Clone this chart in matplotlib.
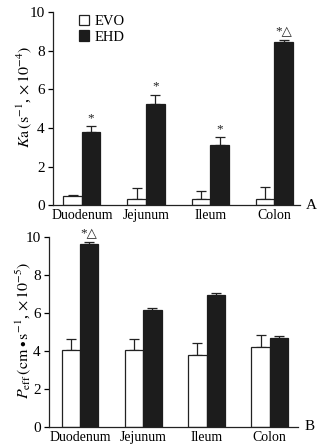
import matplotlib
matplotlib.use("Agg")
import matplotlib.pyplot as plt
import numpy as np

segments = ["Duodenum", "Jejunum", "Ileum", "Colon"]

# panel A: Ka (s^-1, x10^-4)
ka_evo = [0.45, 0.30, 0.30, 0.30]
ka_evo_err = [0.07, 0.60, 0.45, 0.62]
ka_ehd = [3.80, 5.22, 3.14, 8.43]
ka_ehd_err = [0.28, 0.50, 0.40, 0.10]
ka_marks = ["*", "*", "*", "*\u25b3"]

# panel B: Peff (cm s^-1, x10^-5)
peff_evo = [4.02, 4.02, 3.76, 4.22]
peff_evo_err = [0.60, 0.58, 0.63, 0.60]
peff_ehd = [9.60, 6.14, 6.92, 4.68]
peff_ehd_err = [0.10, 0.12, 0.10, 0.10]
peff_marks = ["*\u25b3", "", "", ""]

yticks = [0, 2, 4, 6, 8, 10]

plt.rcParams["font.family"] = ["Liberation Serif", "DejaVu Sans"]
plt.rcParams["mathtext.fontset"] = "stix"

fig = plt.figure(figsize=(3.21, 4.45), dpi=100)
ax1 = fig.add_axes([0.165, 0.539, 0.770, 0.434])
ax2 = fig.add_axes([0.153, 0.041, 0.776, 0.427])

width = 0.29
dark = "#1c1c1c"


def draw_panel(ax, evo, evo_err, ehd, ehd_err, marks, letter, xlim):
    x = np.arange(len(segments))
    zeros = np.zeros(len(segments))
    ax.bar(x - width / 2, evo, width, color="white", edgecolor="#222222",
           linewidth=0.9, label="EVO", zorder=2)
    ax.bar(x + width / 2, ehd, width, color=dark, edgecolor=dark,
           linewidth=0.9, label="EHD", zorder=2)
    ax.errorbar(x - width / 2, evo, yerr=[zeros, evo_err], fmt="none",
                ecolor="#222222", elinewidth=0.9, capsize=3.6, capthick=0.9,
                zorder=1)
    ax.errorbar(x + width / 2, ehd, yerr=[zeros, ehd_err], fmt="none",
                ecolor="#222222", elinewidth=0.9, capsize=3.6, capthick=0.9,
                zorder=1)
    for xi, top, m in zip(x + width / 2, np.add(ehd, ehd_err), marks):
        if m:
            ax.text(xi, top + 0.1, m, ha="center", va="bottom", fontsize=9.5,
                    color="#222222")

    ax.set_xlim(*xlim)
    ax.set_ylim(0, 10)
    ax.set_yticks(yticks)
    ax.set_xticks(x)
    ax.set_xticklabels(segments, fontsize=10)
    ax.tick_params(axis="x", length=0, pad=3)
    ax.tick_params(axis="y", direction="out", length=3.5, width=0.9,
                   labelsize=11, pad=2.5)
    for s in ["top", "right"]:
        ax.spines[s].set_visible(False)
    for s in ["left", "bottom"]:
        ax.spines[s].set_linewidth(0.9)
        ax.spines[s].set_color("#222222")
    ax.text(1.025, 0.0, letter, transform=ax.transAxes, ha="left",
            va="center", fontsize=11)


draw_panel(ax1, ka_evo, ka_evo_err, ka_ehd, ka_ehd_err, ka_marks, "A",
           (-0.45, 3.40))
draw_panel(ax2, peff_evo, peff_evo_err, peff_ehd, peff_ehd_err, peff_marks,
           "B", (-0.49, 3.45))

ax1.set_ylabel(r"$K\mathrm{a}\,(\mathrm{s}^{-1}$, $\times\,10^{-4})$",
               fontsize=11.5)
ax1.yaxis.set_label_coords(-0.075, 0.56)
ax2.set_ylabel(r"$P_{\mathrm{eff}}\,(\mathrm{cm}\bullet\mathrm{s}^{-1}$, $\times\,10^{-5})$",
               fontsize=11.5)
ax2.yaxis.set_label_coords(-0.066, 0.51)

ax1.legend(loc="upper left", bbox_to_anchor=(0.07, 1.03), frameon=False,
           fontsize=10.5, handlelength=0.7, handleheight=0.7,
           handletextpad=0.4, labelspacing=0.15, borderaxespad=0.2)

fig.savefig("out.png", dpi=100, facecolor="white")
